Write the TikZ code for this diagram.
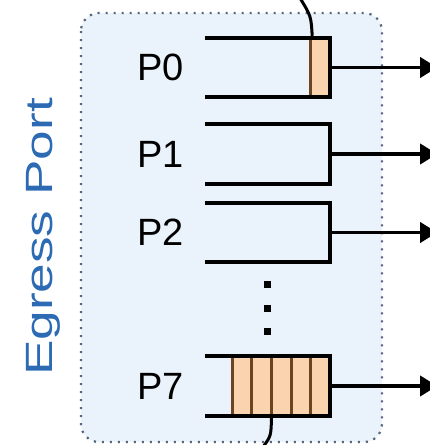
\documentclass[tikz,border=0pt]{standalone}
\usepackage{fontspec}
\setmainfont{Liberation Sans}
\usetikzlibrary{arrows.meta,positioning}

\definecolor{portfill}{HTML}{EAF2FB}
\definecolor{portedge}{HTML}{56667E}
\definecolor{portblue}{HTML}{2C6BB3}
\definecolor{pktfill}{HTML}{F9D4AE}
\definecolor{pktedge}{HTML}{6E4420}

\tikzset{
	queue/.style={minimum width=125pt, minimum height=59pt, inner sep=0pt},
	qline/.style={line width=4pt},
	pname/.style={font=\fontsize{38}{40}\selectfont, inner sep=0pt},
	pkt/.style={fill=pktfill, draw=pktedge, line width=3pt},
	outarrow/.style={line width=3.6pt, -{Triangle[length=17pt,width=20pt]}},
	tagline/.style={line width=3pt},
}

\begin{document}
\begin{tikzpicture}[x=1pt,y=-1pt]
	\useasboundingbox (0,0) rectangle (429,445);
	% port frame
	\draw[portedge, line width=2.2pt, dash pattern=on 2.2pt off 5.8pt, fill=portfill, rounded corners=18pt] (81,13) rectangle (382,442);
	\node[rotate=90, text=portblue, font=\fontsize{38}{40}\selectfont, inner sep=0pt] (port) at (43,237) {\scalebox{1.4}[1]{Egress Port}};

	% queues
	\node[queue] (q0) at (267.5,67.5) {};
	\node[queue] (q1) at (267.5,154) {};
	\node[queue] (q2) at (267.5,232.5) {};
	\node[queue] (q7) at (267.5,386) {};

	% packets
	\draw[pkt] ([xshift=-19.6pt]q0.north east) rectangle (q0.south east);
	\foreach \i in {1,...,5}
		\draw[pkt] ([xshift={-19.6*\i}]q7.north east) rectangle ([xshift={-19.6*(\i-1)}]q7.south east);

	\foreach \q in {q0,q1,q2,q7}
		\draw[qline] (\q.north west) -- (\q.north east) -- (\q.south east) -- (\q.south west);

	% names
	\node[pname, left=21pt of q0] (p0) {P0};
	\node[pname, left=21pt of q1] (p1) {P1};
	\node[pname, left=21pt of q2] (p2) {P2};
	\node[pname, left=21pt of q7] (p7) {P7};

	\foreach \y [count=\k] in {284,308,331}
		\node[fill, minimum size=7pt, inner sep=0pt] (dot\k) at (267,\y) {};

	% outputs
	\foreach \q in {q0,q1,q2,q7} {
		\coordinate[right=107pt of \q.east] (out\q);
		\draw[outarrow] (\q.east) -- (out\q);
	}

	% tags above and below
	\coordinate (tagtop) at (300,-2);
	\coordinate (tagbot) at (263,447);
	\draw[tagline] ([xshift=-18pt,yshift=2pt]q0.north east) .. controls (311,16) .. (tagtop);
	\draw[tagline] ([xshift=4pt,yshift=-2pt]q7.south) .. controls (271,436) .. (tagbot);
\end{tikzpicture}
\end{document}
